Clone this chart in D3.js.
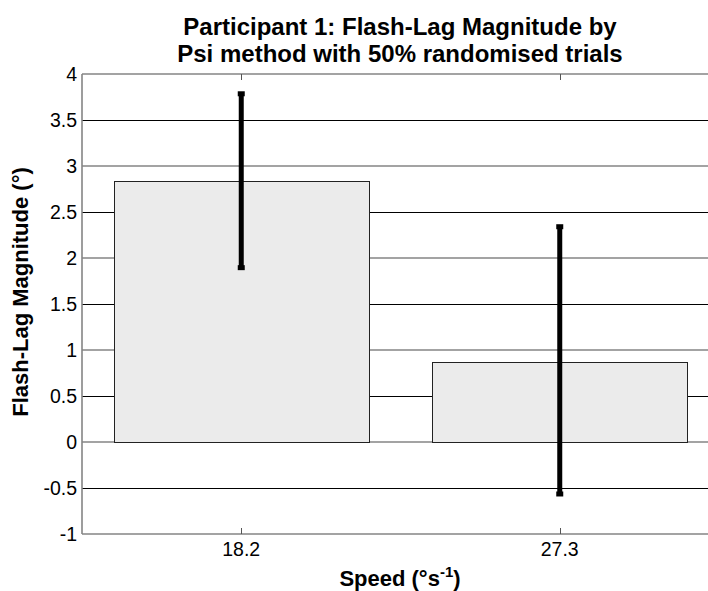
<!DOCTYPE html>
<html>
<head>
<meta charset="utf-8">
<script src="https://cdn.jsdelivr.net/npm/d3@7"></script>
<style>
  body { margin: 0; background: #fff; }
  svg { display: block; font-family: "Liberation Sans", Arial, sans-serif; }
</style>
</head>
<body>
<svg id="chart" width="708" height="591"></svg>
<script>
// data
var speeds = ["18.2", "27.3"];
var flashLag = [2.84, 0.873];
var errHigh = [3.785, 2.34];
var errLow = [1.895, -0.565];
var yTicks = [-1, -0.5, 0, 0.5, 1, 1.5, 2, 2.5, 3, 3.5, 4];
var titleLines = ["Participant 1: Flash-Lag Magnitude by", "Psi method with 50% randomised trials"];

var plotLeft = 82, plotRight = 719, plotTop = 74, plotBottom = 534;

var svg = d3.select("#chart");

var x = d3.scaleBand()
  .domain(speeds)
  .range([plotLeft, plotRight])
  .paddingInner(0.2)
  .paddingOuter(0.1);

var y = d3.scaleLinear()
  .domain([-1, 4])
  .range([plotBottom, plotTop]);

// grid lines (integer ones grey, half ones black)
svg.append("g").selectAll("line")
  .data(yTicks)
  .enter().append("line")
  .attr("x1", plotLeft)
  .attr("x2", 708)
  .attr("y1", function(d) { return Number.isInteger(d) ? y(d) : y(d) + 0.5; })
  .attr("y2", function(d) { return Number.isInteger(d) ? y(d) : y(d) + 0.5; })
  .attr("stroke", function(d) { return Number.isInteger(d) ? "#858585" : "#000"; })
  .attr("stroke-width", function(d) { return Number.isInteger(d) ? 1.6 : 1; });

// bars
svg.append("g").selectAll("rect")
  .data(flashLag)
  .enter().append("rect")
  .attr("x", function(d, i) { return Math.round(x(speeds[i])) + 0.5; })
  .attr("y", function(d) { return Math.round(y(d)) + 0.5; })
  .attr("width", Math.round(x.bandwidth()))
  .attr("height", function(d) { return Math.round(y(0)) - Math.round(y(d)); })
  .attr("fill", "#ebebeb")
  .attr("stroke", "#222")
  .attr("stroke-width", 1);

// left axis line
svg.append("line")
  .attr("x1", plotLeft).attr("x2", plotLeft)
  .attr("y1", plotTop).attr("y2", plotBottom)
  .attr("stroke", "#858585").attr("stroke-width", 1.6);

// x tick marks top and bottom
var ticks = svg.append("g");
speeds.forEach(function(s) {
  var cx = Math.round(x(s) + x.bandwidth() / 2) + 0.5;
  ticks.append("line").attr("x1", cx).attr("x2", cx).attr("y1", plotBottom).attr("y2", plotBottom - 6)
    .attr("stroke", "#555");
  ticks.append("line").attr("x1", cx).attr("x2", cx).attr("y1", plotTop).attr("y2", plotTop + 6)
    .attr("stroke", "#555");
});

// error bars
var eb = svg.append("g");
speeds.forEach(function(s, i) {
  var cx = x(s) + x.bandwidth() / 2;
  eb.append("line")
    .attr("x1", cx).attr("x2", cx)
    .attr("y1", y(errHigh[i])).attr("y2", y(errLow[i]))
    .attr("stroke", "#000").attr("stroke-width", 5);
  [errHigh[i], errLow[i]].forEach(function(v) {
    eb.append("rect")
      .attr("x", cx - 3.5).attr("y", y(v) - 2.5)
      .attr("width", 7).attr("height", 5)
      .attr("fill", "#000");
  });
});

// y tick labels
svg.append("g").selectAll("text")
  .data(yTicks)
  .enter().append("text")
  .attr("x", 77)
  .attr("y", function(d) { return y(d); })
  .attr("dy", "0.36em")
  .attr("text-anchor", "end")
  .attr("font-size", 19.5)
  .text(function(d) { return d; });

// x tick labels
svg.append("g").selectAll("text")
  .data(speeds)
  .enter().append("text")
  .attr("x", function(d) { return x(d) + x.bandwidth() / 2; })
  .attr("y", 556)
  .attr("text-anchor", "middle")
  .attr("font-size", 19.5)
  .text(function(d) { return d; });

// title
svg.append("g").selectAll("text")
  .data(titleLines)
  .enter().append("text")
  .attr("x", 400)
  .attr("y", function(d, i) { return 34.5 + i * 27.4; })
  .attr("text-anchor", "middle")
  .attr("font-size", 24)
  .attr("font-weight", "bold")
  .text(function(d) { return d; });

// x axis label with superscript
var xl = svg.append("text")
  .attr("x", 400)
  .attr("y", 586)
  .attr("text-anchor", "middle")
  .attr("font-size", 22)
  .attr("font-weight", "bold");
xl.append("tspan").text("Speed (\u00b0s");
xl.append("tspan").attr("dy", -9).attr("font-size", 15).text("-1");
xl.append("tspan").attr("dy", 9).text(")");

// y axis label
svg.append("text")
  .attr("transform", "translate(28,292) rotate(-90)")
  .attr("text-anchor", "middle")
  .attr("font-size", 22)
  .attr("font-weight", "bold")
  .text("Flash-Lag Magnitude (\u00b0)");
</script>
</body>
</html>
